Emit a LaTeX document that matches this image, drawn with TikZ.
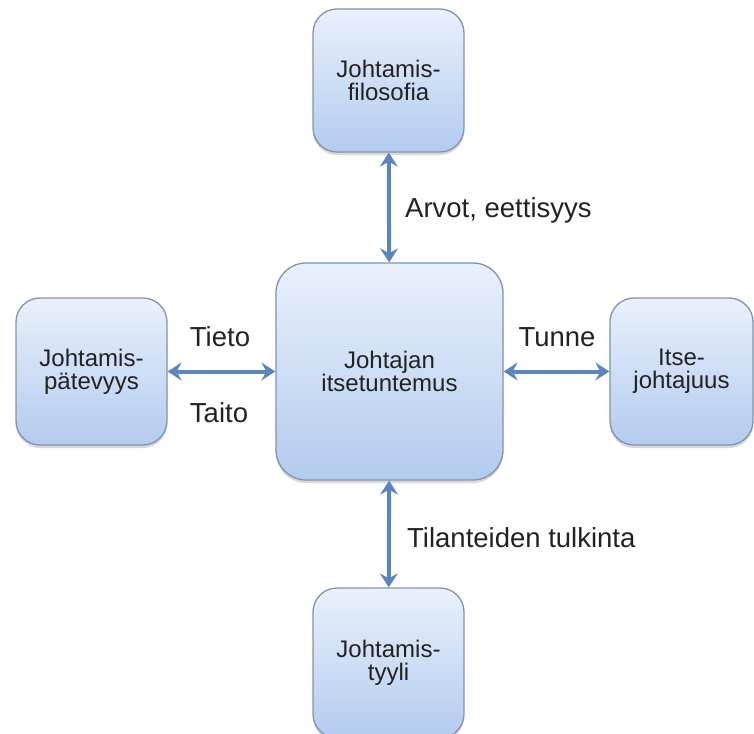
\documentclass[tikz,border=0pt]{standalone}
\usepackage{fontspec}
\setmainfont{Liberation Sans}
\usetikzlibrary{arrows.meta,shadows}
\definecolor{boxtop}{HTML}{E9F1FC}
\definecolor{boxbot}{HTML}{B3CBEE}
\definecolor{boxline}{HTML}{7F94B0}
\definecolor{arrcol}{HTML}{5A86BD}
\definecolor{txt}{HTML}{222222}
\tikzset{
  box/.style={draw=boxline, line width=1.3pt, rounded corners=24pt,
    top color=boxtop, bottom color=boxbot, align=center,
    font=\fontsize{24}{23}\selectfont, text=txt, inner sep=0pt,
    drop shadow={shadow xshift=0pt, shadow yshift=-3pt, opacity=0.25, fill=black!60}},
  lab/.style={font=\fontsize{27.5}{29}\selectfont, text=txt, inner sep=0pt},
  arr/.style={draw=arrcol, line width=4pt,
    {Stealth[length=14pt,width=18pt,inset=5pt]}-{Stealth[length=14pt,width=18pt,inset=5pt]}}
}
\begin{document}
\begin{tikzpicture}[x=1pt,y=-1pt]
\useasboundingbox[fill=white] (0,0) rectangle (754,733);
\node[box, minimum width=151, minimum height=143] (top) at (388.5,80.5) {Johtamis-\\filosofia};
\node[box, minimum width=227, minimum height=217, rounded corners=30pt] (mid) at (389.5,371.5) {Johtajan\\itsetuntemus};
\node[box, minimum width=151, minimum height=147] (left) at (91.5,371.5) {Johtamis-\\pätevyys};
\node[box, minimum width=143, minimum height=147] (right) at (681.5,371.5) {Itse-\\johtajuus};
\node[box, minimum width=151, minimum height=150] (bot) at (388.5,663) {Johtamis-\\tyyli};
\draw[arr] (top) -- (mid);
\draw[arr] (mid) -- (bot);
\draw[arr] (left) -- (mid);
\draw[arr] (mid) -- (right);
\node[lab, anchor=west] (l1) at (405,210) {Arvot, eettisyys};
\node[lab, anchor=west] (l2) at (407,538) {Tilanteiden tulkinta};
\node[lab] (l3) at (220,337) {Tieto};
\node[lab] (l4) at (219,413) {Taito};
\node[lab] (l5) at (557,337) {Tunne};
\end{tikzpicture}
\end{document}
